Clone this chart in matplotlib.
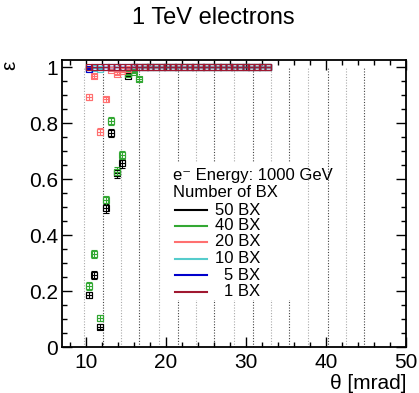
import matplotlib
matplotlib.use("Agg")
from matplotlib import pyplot as plt
from matplotlib.lines import Line2D
from matplotlib.patches import Rectangle
from matplotlib.ticker import MultipleLocator, FuncFormatter

plt.rcParams["font.family"] = ["Liberation Sans", "DejaVu Sans"]

# theta bin centres [mrad], bins 0.7 mrad wide
theta = [10.35, 11.05, 11.75, 12.45, 13.15, 13.85, 14.55, 15.25, 15.95, 16.65, 17.35,
         18.05, 18.75, 19.45, 20.15, 20.85, 21.55, 22.25, 22.95, 23.65, 24.35, 25.05,
         25.75, 26.45, 27.15, 27.85, 28.55, 29.25, 29.95, 30.65, 31.35, 32.05, 32.75]
theta_halfwidth = 0.35

eff_50bx = [0.186, 0.257, 0.073, 0.495, 0.765, 0.620, 0.656, 0.969, 1, 1, 1,
            1, 1, 1, 1, 1, 1, 1, 1, 1, 1, 1, 1, 1, 1, 1, 1, 1, 1, 1, 1, 1, 1]
err_50bx = [0.012, 0.014, 0.009, 0.016, 0.014, 0.016, 0.016, 0.006, 0, 0, 0,
            0, 0, 0, 0, 0, 0, 0, 0, 0, 0, 0, 0, 0, 0, 0, 0, 0, 0, 0, 0, 0, 0]
eff_40bx = [0.218, 0.332, 0.103, 0.525, 0.808, 0.626, 0.686, 0.977, 0.983, 0.956, 1,
            1, 1, 1, 1, 1, 1, 1, 1, 1, 1, 1, 1, 1, 1, 1, 1, 1, 1, 1, 1, 1, 1]
err_40bx = [0.013, 0.015, 0.010, 0.016, 0.013, 0.016, 0.015, 0.005, 0.004, 0.007, 0,
            0, 0, 0, 0, 0, 0, 0, 0, 0, 0, 0, 0, 0, 0, 0, 0, 0, 0, 0, 0, 0, 0]
eff_20bx = [0.894, 0.968, 0.770, 0.885, 0.990, 0.977, 0.987, 0.993, 1, 1, 1,
            1, 1, 1, 1, 1, 1, 1, 1, 1, 1, 1, 1, 1, 1, 1, 1, 1, 1, 1, 1, 1, 1]
err_20bx = [0.010, 0.006, 0.014, 0.010, 0.003, 0.005, 0.004, 0.003, 0, 0, 0,
            0, 0, 0, 0, 0, 0, 0, 0, 0, 0, 0, 0, 0, 0, 0, 0, 0, 0, 0, 0, 0, 0]
eff_10bx = [0.995, 0.998, 0.993, 1, 1, 1, 1, 1, 1, 1, 1,
            1, 1, 1, 1, 1, 1, 1, 1, 1, 1, 1, 1, 1, 1, 1, 1, 1, 1, 1, 1, 1, 1]
err_10bx = [0.002, 0.001, 0.003, 0, 0, 0, 0, 0, 0, 0, 0,
            0, 0, 0, 0, 0, 0, 0, 0, 0, 0, 0, 0, 0, 0, 0, 0, 0, 0, 0, 0, 0, 0]
eff_5bx = [0.993, 1, 1, 1, 1, 1, 1, 1, 1, 1, 1,
           1, 1, 1, 1, 1, 1, 1, 1, 1, 1, 1, 1, 1, 1, 1, 1, 1, 1, 1, 1, 1, 1]
err_5bx = [0.003, 0, 0, 0, 0, 0, 0, 0, 0, 0, 0,
           0, 0, 0, 0, 0, 0, 0, 0, 0, 0, 0, 0, 0, 0, 0, 0, 0, 0, 0, 0, 0, 0]
eff_1bx = [1, 1, 1, 1, 1, 1, 1, 1, 1, 1, 1,
           1, 1, 1, 1, 1, 1, 1, 1, 1, 1, 1, 1, 1, 1, 1, 1, 1, 1, 1, 1, 1, 1]
err_1bx = [0, 0, 0, 0, 0, 0, 0, 0, 0, 0, 0,
           0, 0, 0, 0, 0, 0, 0, 0, 0, 0, 0, 0, 0, 0, 0, 0, 0, 0, 0, 0, 0, 0]

series_labels = ["50 BX", "40 BX", "20 BX", "10 BX", "5 BX", "1 BX"]
series_eff = [eff_50bx, eff_40bx, eff_20bx, eff_10bx, eff_5bx, eff_1bx]
series_err = [err_50bx, err_40bx, err_20bx, err_10bx, err_5bx, err_1bx]
series_colors = ["#000000", "#33a833", "#ff7070", "#55cccc", "#0000cc", "#a01830"]

# pad ring boundaries [mrad]
ring_edges = [9.75, 12.1, 14.4, 16.6, 19.1, 21.5, 23.75, 26.0, 28.5, 30.9, 33.1,
              35.4, 37.75, 40.25, 42.5, 44.75]

fig = plt.figure(figsize=(4.19, 3.93), dpi=100)
ax = fig.add_axes([0.148, 0.117, 0.821, 0.730])

for i, x in enumerate(ring_edges):
    ax.vlines(x, 0, 1, colors="#aaaaaa" if i % 2 == 0 else "#444444",
              linestyles=(0, (1, 1.5)), linewidth=0.8, zorder=1)

for eff, err, col in zip(series_eff, series_err, series_colors):
    ax.errorbar(theta, eff, yerr=err, xerr=theta_halfwidth, fmt="s", color=col,
                mfc="none", mec=col, ms=5, mew=0.8, elinewidth=0.8,
                capsize=2, capthick=0.8, zorder=3)

ax.set_xlim(7, 50)
ax.set_ylim(0, 1.025)
ax.xaxis.set_major_locator(MultipleLocator(10))
ax.xaxis.set_minor_locator(MultipleLocator(2))
ax.yaxis.set_major_locator(MultipleLocator(0.2))
ax.yaxis.set_minor_locator(MultipleLocator(0.05))
ax.yaxis.set_major_formatter(FuncFormatter(lambda v, p: f"{v:g}"))
ax.tick_params(which="both", direction="in", top=True, right=True,
               labelsize=15, width=1.0)
ax.tick_params(which="major", length=7)
ax.tick_params(which="minor", length=3.5)
ax.tick_params(axis="x", pad=4)
ax.tick_params(axis="y", pad=3)
for s in ax.spines.values():
    s.set_linewidth(1.3)

ax.set_xlabel("θ [mrad]", fontsize=15, loc="right", labelpad=2)
ax.set_ylabel("ε", fontsize=15, loc="top", rotation=90)
ax.yaxis.set_label_coords(-0.125, 1.0)

fig.text(0.508, 0.953, "1 TeV electrons", fontsize=17, ha="center", va="center")

# legend block drawn by hand
ax.add_patch(Rectangle((0.294, 0.164), 0.398, 0.477, transform=ax.transAxes,
                       facecolor="white", edgecolor="none", zorder=4))
ax.text(0.323, 0.599, "e⁻ Energy: 1000 GeV", transform=ax.transAxes, fontsize=12,
        ha="left", va="center", zorder=5)
ax.text(0.323, 0.537, "Number of BX", transform=ax.transAxes, fontsize=12,
        ha="left", va="center", zorder=5)
row_y = [0.477, 0.423, 0.367, 0.307, 0.251, 0.193]
for y, lab, col in zip(row_y, series_labels, series_colors):
    ax.add_line(Line2D([0.328, 0.422], [y, y], transform=ax.transAxes, color=col,
                       linewidth=1.5, zorder=5))
    ax.text(0.576, y, lab, transform=ax.transAxes, fontsize=12,
            ha="right", va="center", zorder=5)

fig.savefig("out.png", dpi=100)
